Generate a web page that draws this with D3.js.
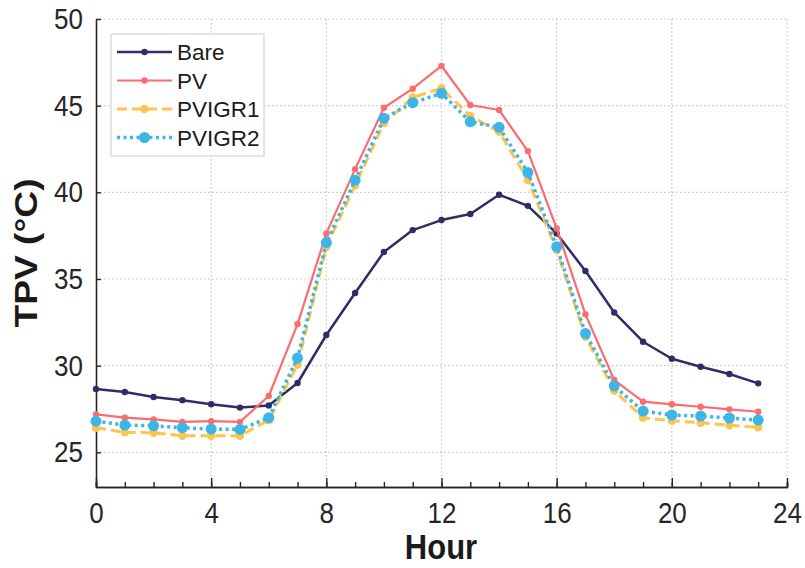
<!DOCTYPE html>
<html>
<head>
<meta charset="utf-8">
<script src="https://cdn.jsdelivr.net/npm/d3@7"></script>
<style>
    body { margin: 0; background: #fff; }
    svg { font-family: "Liberation Sans", Arial, sans-serif; }
    .tick text {
        transform: scaleY(1.15);
        transform-box: fill-box;
        transform-origin: center;
    }
</style>
</head>
<body>
<div id="chart"></div>
<script>
    // TPV by hour of day, four roof setups

    var hours = d3.range(0, 24);

    var seriesNames = ['Bare', 'PV', 'PVIGR1', 'PVIGR2'];

    var bare = [28.65, 28.48, 28.19, 28.01, 27.78, 27.58, 27.7, 29.0, 31.77, 34.19, 36.56, 37.82,
        38.4, 38.75, 39.86, 39.22, 37.63, 35.46, 33.07, 31.38, 30.4, 29.94, 29.52, 28.98];

    var pv = [27.19, 27.0, 26.9, 26.76, 26.8, 26.76, 28.25, 32.4, 37.63, 41.34, 44.88, 45.98,
        47.29, 45.04, 44.75, 42.38, 37.92, 32.96, 29.17, 27.92, 27.77, 27.63, 27.48, 27.34];

    var pvigr1 = [26.42, 26.15, 26.13, 25.96, 25.96, 25.96, 26.85, 30.05, 36.86, 40.4, 44.0, 45.48,
        46.0, 44.4, 43.5, 40.71, 36.67, 31.67, 28.55, 27.0, 26.82, 26.71, 26.56, 26.44];

    var pvigr2 = [26.8, 26.57, 26.53, 26.42, 26.34, 26.32, 27.0, 30.44, 37.1, 40.7, 44.27, 45.17,
        45.71, 44.07, 43.75, 41.15, 36.86, 31.86, 28.82, 27.38, 27.15, 27.09, 26.98, 26.86];

    var xTicks = [0, 4, 8, 12, 16, 20, 24];
    var yTicks = [25, 30, 35, 40, 45, 50];

    var colours = ['#2e2e66', '#fc6c6c', '#fdc54d', '#3db5e6'];
    var dashes = [null, null, '10,5', '3,3.5'];
    var widths = [2.5, 2.2, 3, 3.5];
    var radii = [3.2, 3.2, 4.2, 5.5];

    var series = [bare, pv, pvigr1, pvigr2].map(function (vals, i) {
        return { name: seriesNames[i], values: vals };
    });

    var width = 805, height = 568;
    var margin = { top: 19, right: 18, bottom: 81, left: 96 };
    var w = width - margin.left - margin.right;
    var h = height - margin.top - margin.bottom;

    var svg = d3.select('#chart')
        .append('svg')
        .attr('width', width)
        .attr('height', height);

    var g = svg.append('g')
        .attr('transform', 'translate(' + margin.left + ',' + margin.top + ')');

    var xScale = d3.scaleLinear().domain([0, 24]).range([0, w]);
    var yScale = d3.scaleLinear().domain([23, 50]).range([h, 0]);

    // dotted grid
    g.append('g').selectAll('line')
        .data(xTicks.slice(1))
        .enter().append('line')
        .attr('x1', d => xScale(d)).attr('x2', d => xScale(d))
        .attr('y1', 0).attr('y2', h)
        .attr('stroke', '#c4c4c4')
        .attr('stroke-width', 1.2)
        .attr('stroke-dasharray', '1.5,2.5');

    g.append('g').selectAll('line')
        .data(yTicks)
        .enter().append('line')
        .attr('x1', 0).attr('x2', w)
        .attr('y1', d => yScale(d)).attr('y2', d => yScale(d))
        .attr('stroke', '#c4c4c4')
        .attr('stroke-width', 1.2)
        .attr('stroke-dasharray', '1.5,2.5');

    // axes
    var xMinor = g.append('g')
        .attr('transform', 'translate(0,' + h + ')')
        .call(d3.axisBottom(xScale).tickValues(d3.range(0, 25)).tickSize(-5).tickFormat(''));

    var xAxis = g.append('g')
        .attr('transform', 'translate(0,' + h + ')')
        .call(d3.axisBottom(xScale).tickValues(xTicks).tickSize(-9).tickPadding(16).tickSizeOuter(0));

    var yAxis = g.append('g')
        .call(d3.axisLeft(yScale).tickValues(yTicks).tickSize(-5).tickPadding(13).tickSizeOuter(0));

    [xMinor, xAxis, yAxis].forEach(function (a) {
        a.selectAll('.domain').attr('stroke', '#262626').attr('stroke-width', 1.6);
        a.selectAll('.tick line').attr('stroke', '#262626').attr('stroke-width', 1.4);
        a.selectAll('.tick text')
            .attr('fill', '#262626')
            .style('font-size', '26px');
    });

    // lines and markers
    var line = d3.line()
        .x((d, i) => xScale(hours[i]))
        .y(d => yScale(d));

    series.forEach(function (s, i) {
        var grp = g.append('g').attr('class', 'series');

        grp.append('path')
            .datum(s.values)
            .attr('fill', 'none')
            .attr('stroke', colours[i])
            .attr('stroke-width', widths[i])
            .attr('stroke-dasharray', dashes[i])
            .attr('stroke-linejoin', 'round')
            .attr('d', line);

        grp.selectAll('circle')
            .data(s.values)
            .enter().append('circle')
            .attr('cx', (d, j) => xScale(hours[j]))
            .attr('cy', d => yScale(d))
            .attr('r', radii[i])
            .attr('fill', colours[i]);
    });

    // axis titles
    svg.append('text')
        .attr('transform', 'translate(441,559) scale(1,1.15)')
        .attr('text-anchor', 'middle')
        .style('font-size', '31px')
        .style('font-weight', 'bold')
        .attr('fill', '#1a1a1a')
        .text('Hour');

    svg.append('text')
        .attr('transform', 'translate(37,253) scale(1,1.2) rotate(-90)')
        .attr('text-anchor', 'middle')
        .style('font-size', '31px')
        .style('font-weight', 'bold')
        .attr('fill', '#1a1a1a')
        .text('TPV (°C)');

    // legend
    var legend = svg.append('g').attr('transform', 'translate(111,34)');

    legend.append('rect')
        .attr('width', 153).attr('height', 122)
        .attr('fill', '#fff')
        .attr('stroke', '#dcdcdc')
        .attr('stroke-width', 1.5);

    var items = legend.selectAll('.item')
        .data(series)
        .enter().append('g')
        .attr('class', 'item')
        .attr('transform', (d, i) => 'translate(0,' + (18 + i * 28.5) + ')');

    items.append('line')
        .attr('x1', 6).attr('x2', 61)
        .attr('stroke', (d, i) => colours[i])
        .attr('stroke-width', (d, i) => widths[i])
        .attr('stroke-dasharray', (d, i) => dashes[i]);

    items.append('circle')
        .attr('cx', 33.5)
        .attr('r', (d, i) => radii[i])
        .attr('fill', (d, i) => colours[i]);

    items.append('text')
        .attr('x', 66)
        .attr('dy', '0.36em')
        .style('font-size', '22.5px')
        .attr('fill', '#1a1a1a')
        .text(d => d.name);
</script>
</body>
</html>
